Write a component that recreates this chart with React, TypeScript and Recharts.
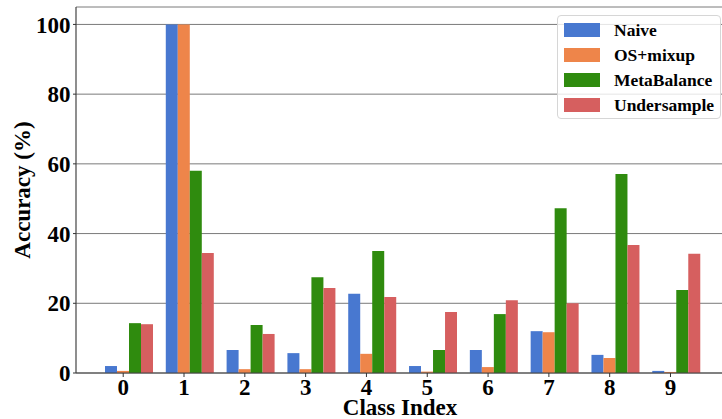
import React from 'react';
import { BarChart, Bar, XAxis, YAxis, CartesianGrid } from 'recharts';

const categories = ['0', '1', '2', '3', '4', '5', '6', '7', '8', '9'];
const naive = [2.0, 100, 6.6, 5.7, 22.7, 2.0, 6.6, 12.0, 5.2, 0.6];
const osMixup = [0.6, 100, 1.1, 1.1, 5.5, 0.4, 1.7, 11.7, 4.3, 0.3];
const metaBalance = [14.3, 58.0, 13.8, 27.5, 35.0, 6.6, 16.9, 47.3, 57.1, 23.8];
const undersample = [14.0, 34.4, 11.2, 24.4, 21.8, 17.5, 20.9, 20.0, 36.7, 34.2];
const yTicks = [0, 20, 40, 60, 80, 100];

const seriesNames = ['Naive', 'OS+mixup', 'MetaBalance', 'Undersample'];
const seriesKeys = ['naive', 'osMixup', 'metaBalance', 'undersample'];
const seriesColors = ['#4878d0', '#ee854a', '#2f8b0e', '#d65f5f'];

const data = categories.map((c, i) => ({
  cls: c,
  naive: naive[i],
  osMixup: osMixup[i],
  metaBalance: metaBalance[i],
  undersample: undersample[i],
}));

const FONT = "'Liberation Serif', 'Times New Roman', Tinos, 'Nimbus Roman', 'Nimbus Roman No9 L', Times, serif";

const XTick = (props: any) => {
  const { x, y, payload } = props;
  const cx = x - 6.1;
  return (
    <g>
      <line x1={cx} x2={cx} y1={y} y2={y + 4} stroke="#333" strokeWidth={1} />
      <text
        x={cx}
        y={y + 6}
        dy="0.71em"
        textAnchor="middle"
        fill="#000"
        style={{ fontFamily: FONT, fontWeight: 700, fontSize: 23 }}
      >
        {payload.value}
      </text>
    </g>
  );
};

const YTitle = () => (
  <text
    x={22}
    y={190}
    transform="rotate(-90 22 190)"
    textAnchor="middle"
    dominantBaseline="central"
    fill="#000"
    style={{ fontFamily: FONT, fontWeight: 700, fontSize: 23 }}
  >
    Accuracy (%)
  </text>
);

const XTitle = () => (
  <text
    x={400}
    y={415}
    textAnchor="middle"
    fill="#000"
    style={{ fontFamily: FONT, fontWeight: 700, fontSize: 23 }}
  >
    Class Index
  </text>
);

export default function App() {
  return (
    <div style={{ position: 'absolute', left: 0, top: 0, width: 722, height: 419, background: '#fff', fontFamily: FONT }}>
      <BarChart
        width={722}
        height={419}
        data={data}
        margin={{ top: 7, right: 0, bottom: 0, left: 0 }}
        barCategoryGap="10%"
        barGap={0}
      >
        <CartesianGrid horizontal vertical={false} stroke="#7a7a7a" strokeWidth={1} />
        <XAxis
          dataKey="cls"
          type="category"
          height={46}
          padding={{ left: 22.9, right: 15 }}
          tickLine={false}
          tickSize={0}
          tickMargin={0}
          tick={<XTick />}
          axisLine={{ stroke: '#444', strokeWidth: 1.2 }}
          interval={0}
          label={<XTitle />}
        />
        <YAxis
          width={76}
          domain={[0, 105]}
          ticks={yTicks}
          tickSize={3}
          tickMargin={2.5}
          tickLine={{ stroke: '#333' }}
          axisLine={{ stroke: '#444', strokeWidth: 1.2 }}
          tick={{ fill: '#000', style: { fontFamily: FONT, fontWeight: 700, fontSize: 23 } }}
          label={<YTitle />}
        />
        {seriesKeys.map((k, i) => (
          <Bar key={k} dataKey={k} name={seriesNames[i]} fill={seriesColors[i]} isAnimationActive={false} />
        ))}
      </BarChart>
      <div
        style={{
          position: 'absolute',
          left: 557,
          top: 15,
          width: 164,
          height: 104,
          border: '1px solid #d6d6d6',
          borderRadius: 4,
          background: 'rgba(255,255,255,0.8)',
          boxSizing: 'border-box',
        }}
      >
        {seriesNames.map((n, i) => (
          <div
            key={n}
            style={{
              position: 'absolute',
              left: 0,
              top: 14 + i * 25 - 12,
              height: 24,
              display: 'flex',
              alignItems: 'center',
            }}
          >
            <div style={{ marginLeft: 6, width: 36, height: 14, background: seriesColors[i] }} />
            <span
              style={{
                marginLeft: 14,
                fontFamily: FONT,
                fontWeight: 700,
                fontSize: 17.5,
                color: '#000',
                lineHeight: '24px',
                whiteSpace: 'nowrap',
              }}
            >
              {n}
            </span>
          </div>
        ))}
      </div>
    </div>
  );
}
